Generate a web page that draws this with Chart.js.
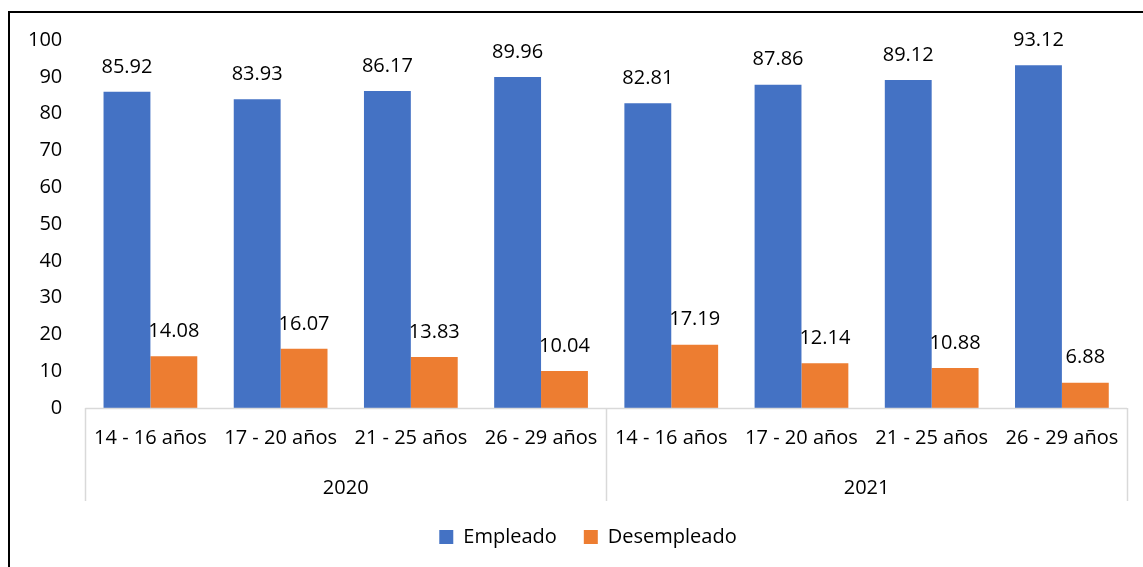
<!DOCTYPE html>
<html lang="es">
<head>
<meta charset="utf-8">
<script src="https://cdn.jsdelivr.net/npm/chart.js@4"></script>
<style>
  html, body { margin: 0; padding: 0; background: #fff; overflow: hidden; }
  #wrap { position: absolute; left: 0; top: 0; width: 1143px; height: 567px; }
  #frame {
    position: absolute; left: 8px; top: 11px; width: 3000px; height: 3000px;
    border: 2px solid #000; box-sizing: border-box; pointer-events: none;
  }
</style>
</head>
<body>
<div id="wrap"><canvas id="c" width="1143" height="567"></canvas></div>
<div id="frame"></div>
<script>
// Edades por grupo, repetidas para cada año
const ageGroups = ['14 - 16 años', '17 - 20 años', '21 - 25 años', '26 - 29 años'];
const years = ['2020', '2021'];
const labels = [...ageGroups, ...ageGroups];

const empleado    = [85.92, 83.93, 86.17, 89.96, 82.81, 87.86, 89.12, 93.12];
const desempleado = [14.08, 16.07, 13.83, 10.04, 17.19, 12.14, 10.88, 6.88];

const yTicks = [0, 10, 20, 30, 40, 50, 60, 70, 80, 90, 100];

const COLOR_EMP  = '#4472C4';
const COLOR_DES  = '#ED7D31';
const COLOR_LINE = '#D9D9D9';
const FONT = '"Open Sans", "Noto Sans", sans-serif';
const FONT_SIZE = 20;

// Etiquetas de valor encima de cada barra
const valueLabels = {
  id: 'valueLabels',
  afterDatasetsDraw(chart) {
    const ctx = chart.ctx;
    ctx.save();
    ctx.font = FONT_SIZE + 'px ' + FONT;
    ctx.fillStyle = '#000';
    ctx.textAlign = 'center';
    ctx.textBaseline = 'middle';
    chart.data.datasets.forEach((ds, i) => {
      chart.getDatasetMeta(i).data.forEach((bar, j) => {
        ctx.fillText(ds.data[j].toFixed(2), bar.x, bar.y - 25);
      });
    });
    ctx.restore();
  },
};

// Segundo nivel del eje X: años + separadores verticales
const yearAxis = {
  id: 'yearAxis',
  afterLayout(chart) {
    // la leyenda del original queda algo a la derecha del centro
    const lg = chart.legend;
    if (lg) { lg.left += 22; lg.right += 22; }
  },
  afterDraw(chart) {
    const ctx = chart.ctx;
    const x = chart.scales.x;
    const area = chart.chartArea;
    const per = ageGroups.length;
    const bounds = [area.left];
    years.forEach((_, k) => {
      const last = (k + 1) * per - 1;
      bounds.push(last === labels.length - 1
        ? area.right
        : (x.getPixelForValue(last) + x.getPixelForValue(last + 1)) / 2);
    });
    ctx.save();
    ctx.strokeStyle = COLOR_LINE;
    ctx.lineWidth = 1.5;
    ctx.beginPath();
    ctx.moveTo(area.left, area.bottom + 0.5);
    ctx.lineTo(area.right, area.bottom + 0.5);
    bounds.forEach(b => {
      ctx.moveTo(Math.round(b) + 0.5, area.bottom);
      ctx.lineTo(Math.round(b) + 0.5, area.bottom + 93);
    });
    ctx.stroke();
    ctx.font = FONT_SIZE + 'px ' + FONT;
    ctx.fillStyle = '#000';
    ctx.textAlign = 'center';
    ctx.textBaseline = 'middle';
    years.forEach((yr, k) => {
      ctx.fillText(yr, (bounds[k] + bounds[k + 1]) / 2, area.bottom + 80);
    });
    ctx.restore();
  },
};

new Chart(document.getElementById('c'), {
  type: 'bar',
  data: {
    labels,
    datasets: [
      {
        label: 'Empleado',
        data: empleado,
        backgroundColor: COLOR_EMP,
        categoryPercentage: 0.72,
        barPercentage: 1.0,
      },
      {
        label: 'Desempleado',
        data: desempleado,
        backgroundColor: COLOR_DES,
        categoryPercentage: 0.72,
        barPercentage: 1.0,
      },
    ],
  },
  options: {
    responsive: false,
    animation: false,
    devicePixelRatio: 1,
    layout: { padding: { left: 5, right: 16, top: 40, bottom: 10 } },
    scales: {
      x: {
        grid: { display: false },
        border: { display: false },
        ticks: {
          color: '#000',
          font: { family: FONT, size: FONT_SIZE },
          padding: 10,
          maxRotation: 0,
          autoSkip: false,
        },
        afterFit(scale) { scale.height += 40; },
      },
      y: {
        min: 0,
        max: 100,
        afterBuildTicks(scale) { scale.ticks = yTicks.map(v => ({ value: v })); },
        grid: { display: false, drawTicks: false },
        border: { display: false },
        ticks: {
          color: '#000',
          font: { family: FONT, size: FONT_SIZE },
          padding: 23,
        },
      },
    },
    plugins: {
      tooltip: { enabled: false },
      legend: {
        position: 'bottom',
        labels: {
          color: '#000',
          font: { family: FONT, size: FONT_SIZE },
          boxWidth: 14,
          boxHeight: 14,
          padding: 27,
        },
      },
    },
  },
  plugins: [valueLabels, yearAxis],
});
</script>
</body>
</html>
